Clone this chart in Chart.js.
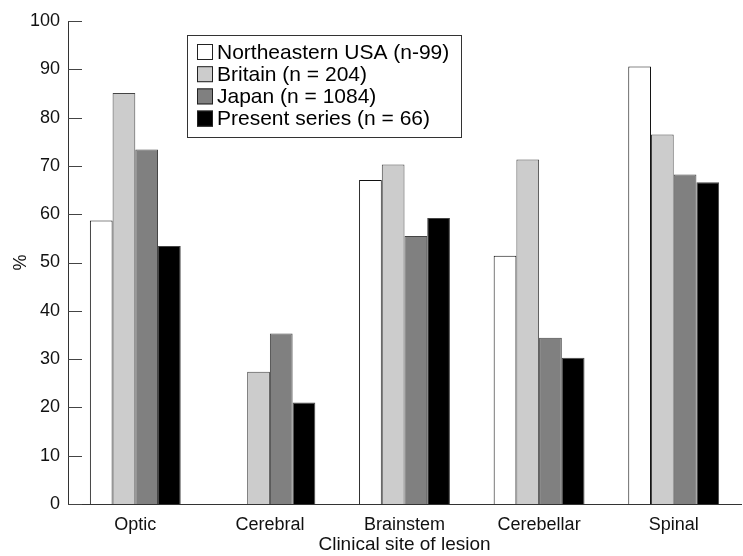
<!DOCTYPE html>
<html>
<head>
<meta charset="utf-8">
<script src="https://cdn.jsdelivr.net/npm/chart.js@4.4.1/dist/chart.umd.min.js"></script>
<style>
  html, body { margin: 0; padding: 0; background: #fff; }
  #wrap { width: 743px; height: 556px; position: relative; }
</style>
</head>
<body>
<div id="wrap"><canvas id="chart" width="743" height="556"></canvas></div>
<script>
// lesion sites and percentages per study
const sites = ["Optic", "Cerebral", "Brainstem", "Cerebellar", "Spinal"];
const seriesNames = ["Northeastern USA (n-99)", "Britain (n = 204)", "Japan (n = 1084)", "Present series (n = 66)"];
const northeasternUSA = [58.7, 0, 67.1, 51.4, 90.6];
const britain = [85.1, 27.4, 70.3, 71.3, 76.5];
const japan = [73.4, 35.3, 55.5, 34.4, 68.2];
const presentSeries = [53.4, 21.0, 59.2, 30.3, 66.6];
const yTicks = [0, 10, 20, 30, 40, 50, 60, 70, 80, 90, 100];

const fills = ["#ffffff", "#cccccc", "#808080", "#000000"];
const seriesValues = [northeasternUSA, britain, japan, presentSeries];

// y ticks point into the plot, drawn by hand
const innerTicks = {
  id: "innerTicks",
  afterDraw(chart) {
    const ctx = chart.ctx;
    const y = chart.scales.y;
    ctx.save();
    ctx.strokeStyle = "#444";
    ctx.lineWidth = 1;
    yTicks.forEach(v => {
      const py = Math.round(y.getPixelForValue(v)) + 0.5;
      ctx.beginPath();
      ctx.moveTo(y.right, py);
      ctx.lineTo(y.right + 14, py);
      ctx.stroke();
    });
    ctx.restore();
  }
};

// boxed legend in the top left of the plot
const boxLegend = {
  id: "boxLegend",
  afterDraw(chart) {
    const ctx = chart.ctx;
    const left = chart.chartArea.left + 119;
    const top = 35;
    ctx.save();
    ctx.strokeStyle = "#333";
    ctx.lineWidth = 1;
    ctx.strokeRect(left + 0.5, top + 0.5, 274, 102);
    ctx.font = "21px 'Liberation Sans', Arial, sans-serif";
    ctx.textBaseline = "middle";
    chart.data.datasets.forEach((ds, i) => {
      const cy = top + 17 + i * 22.2;
      ctx.fillStyle = ds.backgroundColor;
      ctx.fillRect(left + 10, cy - 8, 16, 16);
      ctx.strokeStyle = "#222";
      ctx.strokeRect(left + 10.5, cy - 7.5, 15, 15);
      ctx.fillStyle = "#000";
      ctx.fillText(ds.label, left + 30, cy + 1);
    });
    ctx.restore();
  }
};

new Chart(document.getElementById("chart"), {
  type: "bar",
  data: {
    labels: sites,
    datasets: seriesNames.map((name, i) => ({
      label: name,
      data: seriesValues[i],
      backgroundColor: fills[i],
      borderColor: i === 0 ? "#111" : "#444",
      borderWidth: 1,
      barPercentage: 1,
      categoryPercentage: 0.675
    }))
  },
  options: {
    responsive: false,
    animation: false,
    devicePixelRatio: 1,
    layout: { padding: { left: 0, right: 2, top: 21, bottom: 0 } },
    plugins: {
      legend: { display: false },
      tooltip: { enabled: false }
    },
    scales: {
      x: {
        grid: { display: false },
        border: { display: true, color: "#333", width: 1 },
        ticks: {
          color: "#111",
          font: { family: "'Liberation Sans', Arial, sans-serif", size: 18 },
          padding: 2
        },
        title: {
          display: true,
          text: "Clinical site of lesion",
          color: "#111",
          font: { family: "'Liberation Sans', Arial, sans-serif", size: 19 },
          padding: { top: 6, bottom: 0 }
        },
        afterFit(scale) { scale.height = 52; }
      },
      y: {
        min: 0,
        max: 100,
        afterBuildTicks(scale) { scale.ticks = yTicks.map(v => ({ value: v })); },
        grid: { display: false, drawTicks: false },
        border: { display: true, color: "#333", width: 1 },
        ticks: {
          color: "#111",
          font: { family: "'Liberation Sans', Arial, sans-serif", size: 18 },
          padding: 8
        },
        title: {
          display: true,
          text: "%",
          color: "#111",
          font: { family: "'Liberation Sans', Arial, sans-serif", size: 18 },
          padding: { top: 10, bottom: 0 }
        },
        afterFit(scale) { scale.width = 68; }
      }
    }
  },
  plugins: [innerTicks, boxLegend]
});
</script>
</body>
</html>
